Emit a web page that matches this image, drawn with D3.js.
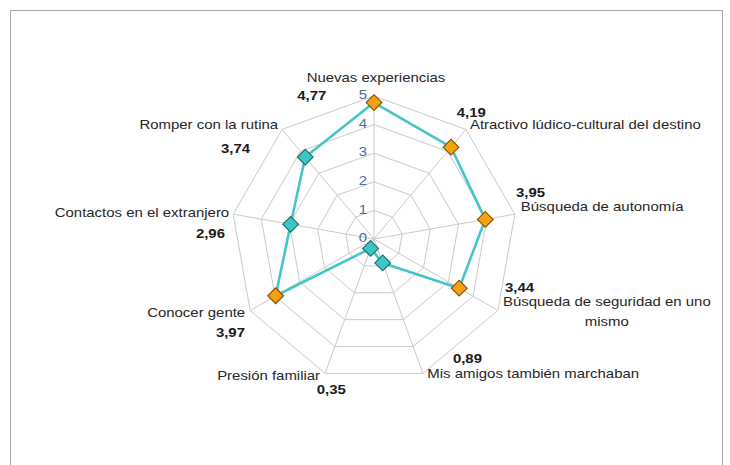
<!DOCTYPE html>
<html>
<head>
<meta charset="utf-8">
<script src="https://cdn.jsdelivr.net/npm/d3@7/dist/d3.min.js"></script>
<style>
  html, body { margin: 0; padding: 0; background: #fff; }
  svg { display: block; }
  text { font-family: "Liberation Sans", Arial, sans-serif; }
</style>
</head>
<body>
<svg id="chart" width="730" height="465"></svg>
<script>
// ---- data ----
const categories = [
  "Nuevas experiencias",
  "Atractivo lúdico-cultural del destino",
  "Búsqueda de autonomía",
  "Búsqueda de seguridad en uno mismo",
  "Mis amigos también marchaban",
  "Presión familiar",
  "Conocer gente",
  "Contactos en el extranjero",
  "Romper con la rutina"
];
const values = [4.77, 4.19, 3.95, 3.44, 0.89, 0.35, 3.97, 2.96, 3.74];
const highlight = [true, true, true, true, false, false, true, false, false];
const ticks = [0, 1, 2, 3, 4, 5];

// ---- layout (not data) ----
const W = 730, H = 465;
const cx = 374, cy = 239, R = 143;
const sx = 1.15; // horizontal text stretch seen in the reference
const catLayout = [
  {dx: 2, dy: -14, a: "middle"},
  {dx: 4, dy: -0.5, a: "start"},
  {dx: 6, dy: -3, a: "start"},
  {dx: 109, dy: -4.5, a: "middle", wrap: 185, lh: 20},
  {dx: 4.4, dy: 5, a: "start"},
  {dx: -5, dy: 7, a: "end"},
  {dx: -5, dy: 6, a: "end"},
  {dx: -4, dy: 2.5, a: "end"},
  {dx: -4, dy: 0, a: "end"}
];
const valLayout = [
  {dx: -76.7, dy: 4, a: "start"},
  {dx: -9.2, dy: -12.6, a: "start"},
  {dx: 1.2, dy: -17.5, a: "start"},
  {dx: 7.2, dy: -18.5, a: "start"},
  {dx: 30, dy: -10.7, a: "start"},
  {dx: -8.4, dy: 20.6, a: "start"},
  {dx: -5.2, dy: 26.2, a: "end"},
  {dx: -8.2, dy: 24.1, a: "end"},
  {dx: -32, dy: 23.2, a: "end"}
];

const svg = d3.select("#chart");
svg.append("rect").attr("width", W).attr("height", H).attr("fill", "#fff");
svg.append("rect")
  .attr("x", 10.5).attr("y", 10.5)
  .attr("width", 712).attr("height", 470)
  .attr("fill", "none").attr("stroke", "#a8a8a8").attr("stroke-width", 1);

const n = categories.length;
const angle = d3.scaleLinear().domain([0, n]).range([0, 2 * Math.PI]);
const r = d3.scaleLinear().domain([0, d3.max(ticks)]).range([0, R]);
const idx = d3.range(n);

const g = svg.append("g").attr("transform", `translate(${cx},${cy})`);

// grid rings
const ringLine = d3.lineRadial().curve(d3.curveLinearClosed);
g.selectAll("path.ring").data(ticks.filter(t => t > 0)).join("path")
  .attr("class", "ring")
  .attr("d", t => ringLine(idx.map(i => [angle(i), r(t)])))
  .attr("fill", "none").attr("stroke", "#cacaca").attr("stroke-width", 1);

// spokes
function pt(i, v) {
  const a = angle(i);
  return [Math.sin(a) * r(v), -Math.cos(a) * r(v)];
}
g.selectAll("line.spoke").data(idx).join("line")
  .attr("class", "spoke")
  .attr("x1", 0).attr("y1", 0)
  .attr("x2", i => pt(i, d3.max(ticks))[0])
  .attr("y2", i => pt(i, d3.max(ticks))[1])
  .attr("stroke", "#cacaca").attr("stroke-width", 1);

// tick labels
g.selectAll("g.tick").data(ticks).join("g")
  .attr("class", "tick")
  .attr("transform", t => `translate(-11,${-r(t) - 1.5}) scale(${sx},1)`)
  .append("text")
  .attr("text-anchor", "middle")
  .attr("dominant-baseline", "central")
  .attr("font-size", 13)
  .attr("fill", "#4e6b9c")
  .text(t => t);

// data polygon
const dataLine = d3.lineRadial().curve(d3.curveLinearClosed);
g.append("path")
  .attr("d", dataLine(values.map((v, i) => [angle(i), r(v)])))
  .attr("fill", "none")
  .attr("stroke", "#45c5c5")
  .attr("stroke-width", 2.6)
  .attr("stroke-linejoin", "round");

// markers
const sym = d3.symbol().type(d3.symbolSquare).size(124);
g.selectAll("path.mk").data(values).join("path")
  .attr("class", "mk")
  .attr("d", sym)
  .attr("transform", (v, i) => { const p = pt(i, v); return `translate(${p[0]},${p[1]}) rotate(45)`; })
  .attr("fill", (v, i) => highlight[i] ? "#f7a10f" : "#3ec4c4")
  .attr("stroke", (v, i) => highlight[i] ? "#7a4e0a" : "#1d6a6a")
  .attr("stroke-width", 1.1);

// category labels
const fmt = d3.formatLocale({decimal: ",", thousands: ".", grouping: [3], currency: ["", "€"]}).format(".2f");

categories.forEach((c, i) => {
  const L = catLayout[i];
  const p = pt(i, d3.max(ticks));
  const grp = g.append("g").attr("transform", `translate(${p[0] + L.dx},${p[1] + L.dy}) scale(${sx},1)`);
  const t = grp.append("text")
    .attr("text-anchor", L.a)
    .attr("font-size", 13)
    .attr("fill", "#262626");
  if (L.wrap) {
    const words = c.split(" ");
    let line = [], lineNo = 0;
    let ts = t.append("tspan").attr("x", 0).attr("y", 0);
    words.forEach(w => {
      line.push(w);
      ts.text(line.join(" "));
      if (ts.node().getComputedTextLength() > L.wrap && line.length > 1) {
        line.pop();
        ts.text(line.join(" "));
        line = [w];
        lineNo++;
        ts = t.append("tspan").attr("x", 0).attr("y", lineNo * L.lh).text(w);
      }
    });
  } else {
    t.text(c);
  }
});

// value labels
values.forEach((v, i) => {
  const L = valLayout[i];
  const p = pt(i, d3.max(ticks));
  g.append("g").attr("transform", `translate(${p[0] + L.dx},${p[1] + L.dy}) scale(${sx},1)`)
    .append("text")
    .attr("text-anchor", L.a)
    .attr("font-size", 13)
    .attr("font-weight", "bold")
    .attr("fill", "#1a1a1a")
    .text(fmt(v));
});
</script>
</body>
</html>
